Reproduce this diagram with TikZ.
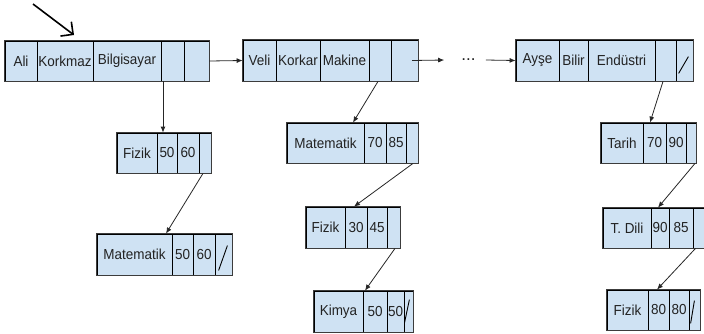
\documentclass[tikz,border=0pt]{standalone}
\usepackage{fontspec}
\usepackage{graphicx}
\setmainfont{Liberation Sans}
\usetikzlibrary{arrows.meta}
\definecolor{cellfill}{HTML}{CFE2F3}
\definecolor{framec}{HTML}{3C3C3C}
\definecolor{txt}{HTML}{222222}
\tikzset{
  cell/.style={draw=black, line width=0.8pt, fill=cellfill, inner sep=0pt, text=txt,
    font=\fontsize{14.5}{17}\selectfont},
  frame/.style={draw=framec, line width=1.3pt},
  conn/.style={draw=black!85, line width=0.8pt, -{Latex[length=6pt,width=5pt]}},
  slashln/.style={draw=black, line width=0.9pt},
  bigarrow/.style={draw=black, line width=1.6pt, -{Straight Barb[length=9pt,width=18pt]}},
  dotsnode/.style={inner sep=0pt, text=txt, font=\fontsize{17}{20}\selectfont}
}
\newcommand{\sq}[1]{\scalebox{0.93}[1]{#1}}
\newcommand{\rcell}[6]{\node[cell, minimum width={(#3-#2)*1pt}, minimum height={(#5-#4)*1pt}] (#1) at ({(#2+#3)/2},{(#4+#5)/2}) {\sq{#6}};}
\newcommand{\rframe}[2]{\draw[frame] (#1.north west) rectangle (#2.south east);}
\begin{document}
\begin{tikzpicture}[x=1pt,y=-1pt]
\useasboundingbox (0,0) rectangle (704,333);
% ---------- top records ----------
\rcell{r11}{5}{37}{41}{81}{Ali}
\rcell{r12}{37}{93}{41}{81}{Korkmaz}
\rcell{r13}{93}{161}{41}{81}{Bilgisayar}
\rcell{r14}{161}{184}{41}{81}{}
\rcell{r15}{184}{209}{41}{81}{}
\rframe{r11}{r15}

\rcell{r21}{243}{276}{40}{81}{Veli}
\rcell{r22}{276}{320}{40}{81}{Korkar}
\rcell{r23}{320}{369}{40}{81}{Makine}
\rcell{r24}{369}{391}{40}{81}{}
\rcell{r25}{391}{418}{40}{81}{}
\rframe{r21}{r25}

\rcell{r31}{516}{559}{40}{81}{Ayşe}
\rcell{r32}{559}{588}{40}{81}{Bilir}
\rcell{r33}{588}{655}{40}{81}{Endüstri}
\rcell{r34}{655}{676}{40}{81}{}
\rcell{r35}{676}{693}{40}{81}{}
\rframe{r31}{r35}
\draw[slashln] ([shift={(3,-8)}]r35.south west) -- ([shift={(-5,17)}]r35.north east);

\node[dotsnode] (dots) at (468.5,60) {...};

% ---------- column 1 ----------
\rcell{f11}{117}{157}{133}{173}{Fizik}
\rcell{f12}{157}{177}{133}{173}{50}
\rcell{f13}{177}{199}{133}{173}{60}
\rcell{f14}{199}{211}{133}{173}{}
\rframe{f11}{f14}

\rcell{m11}{97}{172}{234}{275}{Matematik}
\rcell{m12}{172}{193}{234}{275}{50}
\rcell{m13}{193}{215}{234}{275}{60}
\rcell{m14}{215}{232}{234}{275}{}
\rframe{m11}{m14}
\draw[slashln] ([shift={(4,-5)}]m14.south west) -- ([shift={(-5,12)}]m14.north east);

% ---------- column 2 ----------
\rcell{m21}{287}{364}{123}{163}{Matematik}
\rcell{m22}{364}{386}{123}{163}{70}
\rcell{m23}{386}{406}{123}{163}{85}
\rcell{m24}{406}{418}{123}{163}{}
\rframe{m21}{m24}

\rcell{f21}{306}{345}{207}{248}{Fizik}
\rcell{f22}{345}{367}{207}{248}{30}
\rcell{f23}{367}{387}{207}{248}{45}
\rcell{f24}{387}{400}{207}{248}{}
\rframe{f21}{f24}

\rcell{k1}{314}{363}{291}{332}{Kimya}
\rcell{k2}{363}{387}{291}{332}{50}
\rcell{k3}{387}{404}{291}{332}{50}
\rcell{k4}{404}{413}{291}{332}{}
\rframe{k1}{k4}
\draw[slashln] ([shift={(1,-10)}]k4.south west) -- ([shift={(-4,9)}]k4.north east);

% ---------- column 3 ----------
\rcell{t1}{601}{643}{123}{163}{Tarih}
\rcell{t2}{643}{666}{123}{163}{70}
\rcell{t3}{666}{686}{123}{163}{90}
\rcell{t4}{686}{696}{123}{163}{}
\rframe{t1}{t4}

\rcell{d1}{603}{651}{208}{248}{T. Dili}
\rcell{d2}{651}{669}{208}{248}{90}
\rcell{d3}{669}{693}{208}{248}{85}
\rcell{d4}{693}{716}{208}{248}{}
\rframe{d1}{d4}

\rcell{g1}{607}{648}{290}{330}{Fizik}
\rcell{g2}{648}{669}{290}{330}{80}
\rcell{g3}{669}{689}{290}{330}{80}
\rcell{g4}{689}{700}{290}{330}{}
\rframe{g1}{g4}
\draw[slashln] ([shift={(2,-7)}]g4.south west) -- ([shift={(-6,11)}]g4.north east);

% ---------- connectors ----------
\coordinate (s0) at (33,4);
\coordinate (s1) at (74,35);
\draw[bigarrow] (s0) -- (s1);

\draw[conn] (r15.east) -- (r21.west);
\draw[conn] ([shift={(7.5,0)}]r25.center) -- ([shift={(-17,0)}]dots.west);
\draw[conn] ([shift={(10,0)}]dots.east) -- (r31.west);

\draw[conn] ([shift={(-9.5,0)}]r14.south) -- ([shift={(-4,0)}]f12.north);
\draw[conn] ([shift={(-2,0)}]f14.south) -- ([shift={(31.5,0)}]m11.north);

\draw[conn] ([shift={(-2,0)}]r24.south) -- ([shift={(27.5,0)}]m21.north);
\draw[conn] ([shift={(1,0)}]m24.south) -- ([shift={(-2,0)}]f22.north);
\draw[conn] ([shift={(1.5,0)}]f24.south) -- ([shift={(-10,0)}]k2.north);

\draw[conn] ([shift={(-2.5,0)}]r34.south) -- ([shift={(-4.5,0)}]t2.north);
\draw[conn] ([shift={(4,0)}]t4.south) -- ([shift={(-2,0)}]d2.north);
\draw[conn] ([shift={(-9,0)}]d4.south) -- ([shift={(-1.5,0)}]g2.north);
\end{tikzpicture}
\end{document}
